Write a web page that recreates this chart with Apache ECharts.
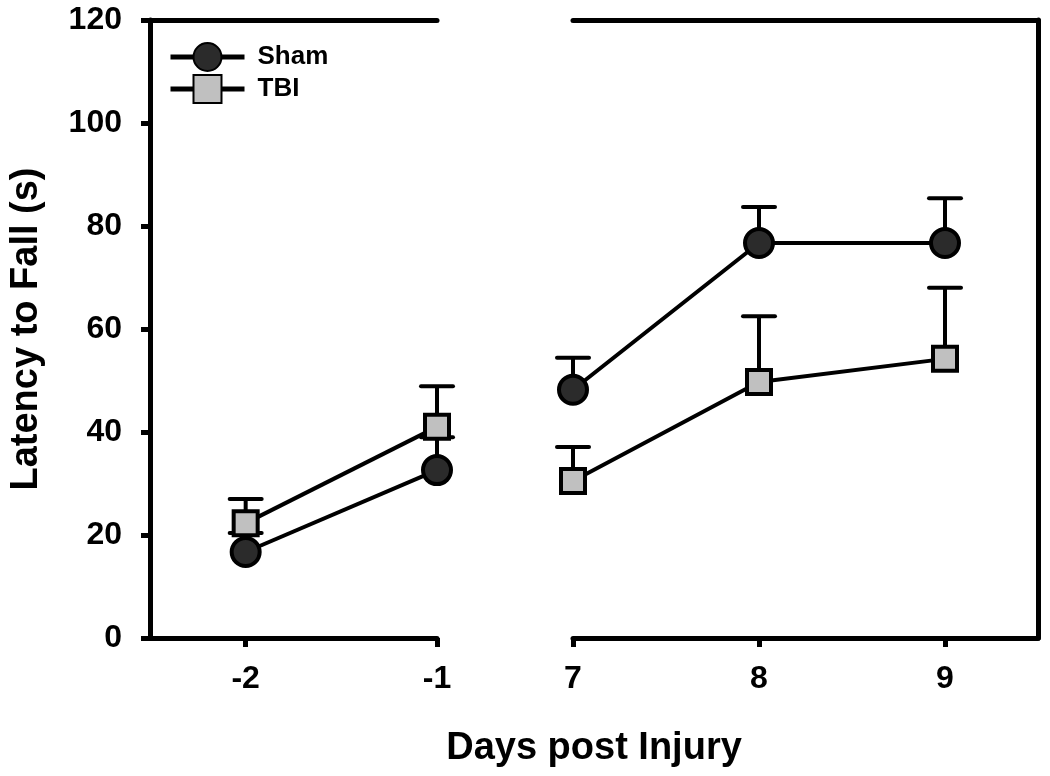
<!DOCTYPE html>
<html>
<head>
<meta charset="utf-8">
<script src="https://cdn.jsdelivr.net/npm/echarts@6/dist/echarts.min.js"></script>
<style>
html,body{margin:0;padding:0;background:#fff;}
#chart{width:1050px;height:776px;}
</style>
</head>
<body>
<div id="chart"></div>
<script>
// ---- data ----
var daysPre = [-2, -1];
var daysPost = [7, 8, 9];
var shamPre = [16.7, 32.6];
var shamPost = [48.2, 76.7, 76.7];
var shamErrPre = [3.7, 6.4];
var shamErrPost = [6.2, 7.0, 8.7];
var tbiPre = [22.3, 41.0];
var tbiPost = [30.5, 49.7, 54.2];
var tbiErrPre = [4.7, 7.9];
var tbiErrPost = [6.6, 12.8, 13.8];
var yTicks = [0, 20, 40, 60, 80, 100, 120];

var FONT = '"Liberation Sans", Arial, sans-serif';

function pts(xs, ys) { return xs.map(function (x, i) { return [x, ys[i]]; }); }
function errPts(xs, ys, es) { return xs.map(function (x, i) { return [x, ys[i], es[i]]; }); }

function errRender(params, api) {
  var x = api.value(0), y = api.value(1), e = api.value(2);
  var p0 = api.coord([x, y]);
  var p1 = api.coord([x, y + e]);
  return {
    type: 'group',
    children: [
      { type: 'line', shape: { x1: p0[0], y1: p0[1], x2: p1[0], y2: p1[1] }, style: { stroke: '#000', lineWidth: 4 } },
      { type: 'line', shape: { x1: p1[0] - 16, y1: p1[1], x2: p1[0] + 16, y2: p1[1] }, style: { stroke: '#000', lineWidth: 4, lineCap: 'round' } }
    ]
  };
}

var axisLineStyle = { color: '#000', width: 5, cap: 'round' };
var tickLabel = { color: '#000', fontFamily: FONT, fontWeight: 'bold', fontSize: 32 };

function bottomX(gridIndex, min, max, vals) {
  return {
    type: 'value', gridIndex: gridIndex, position: 'bottom', min: min, max: max,
    axisLine: { show: true, onZero: false, lineStyle: axisLineStyle },
    axisTick: { show: true, inside: false, length: 9, customValues: vals, lineStyle: { color: '#000', width: 5 } },
    axisLabel: Object.assign({ margin: 25, customValues: vals, showMinLabel: true, showMaxLabel: true }, tickLabel),
    splitLine: { show: false }
  };
}
function topX(gridIndex, min, max) {
  return {
    type: 'value', gridIndex: gridIndex, position: 'top', min: min, max: max,
    axisLine: { show: true, onZero: false, lineStyle: axisLineStyle },
    axisTick: { show: false }, axisLabel: { show: false }, splitLine: { show: false }
  };
}

var shamMarker = { color: '#2b2b2b', borderColor: '#000', borderWidth: 4 };
var tbiMarker = { color: '#c0c0c0', borderColor: '#000', borderWidth: 4 };

function lineSeries(name, xi, yi, data, symbol, size, style) {
  return {
    name: name, type: 'line', xAxisIndex: xi, yAxisIndex: yi, data: data,
    symbol: symbol, symbolSize: size, showAllSymbol: true,
    lineStyle: { color: '#000', width: 4 },
    itemStyle: style, z: 3, animation: false
  };
}
function errSeries(name, xi, yi, data) {
  return {
    name: name, type: 'custom', xAxisIndex: xi, yAxisIndex: yi, data: data,
    renderItem: errRender, encode: { x: 0, y: 1 }, z: 3, animation: false
  };
}

var option = {
  backgroundColor: '#fff',
  animation: false,
  grid: [
    { left: 150, top: 20, width: 287, height: 618 },
    { left: 573, top: 20, width: 465, height: 618 }
  ],
  legend: {
    data: ['Sham', 'TBI'],
    orient: 'vertical', left: 163, top: 37,
    itemWidth: 74, itemHeight: 35, itemGap: 2,
    lineStyle: { color: '#000', width: 5 },
    textStyle: { color: '#000', fontFamily: FONT, fontWeight: 'bold', fontSize: 26, padding: [0, 0, 0, 8] },
    selectedMode: false
  },
  xAxis: [
    bottomX(0, -2.5, -1, daysPre),
    topX(0, -2.5, -1),
    bottomX(1, 7, 9.5, daysPost),
    topX(1, 7, 9.5)
  ],
  yAxis: [
    {
      type: 'value', gridIndex: 0, position: 'left', min: 0, max: 120, interval: 20,
      name: 'Latency to Fall (s)', nameLocation: 'middle', nameGap: 104,
      nameTextStyle: { color: '#000', fontFamily: FONT, fontWeight: 'bold', fontSize: 38 },
      axisLine: { show: true, lineStyle: axisLineStyle },
      axisTick: { show: true, inside: false, length: 9, lineStyle: { color: '#000', width: 5 } },
      axisLabel: Object.assign({ margin: 28, customValues: yTicks }, tickLabel),
      splitLine: { show: false }
    },
    {
      type: 'value', gridIndex: 1, position: 'right', min: 0, max: 120, interval: 20,
      axisLine: { show: true, lineStyle: axisLineStyle },
      axisTick: { show: false }, axisLabel: { show: false }, splitLine: { show: false }
    }
  ],
  graphic: [
    {
      type: 'text', x: 594, y: 749,
      style: { text: 'Days post Injury', fill: '#000', font: 'bold 38px ' + FONT, textAlign: 'center', textVerticalAlign: 'middle' }
    }
  ],
  series: [
    errSeries('Sham SEM', 0, 0, errPts(daysPre, shamPre, shamErrPre)),
    lineSeries('Sham', 0, 0, pts(daysPre, shamPre), 'circle', 28, shamMarker),
    errSeries('TBI SEM', 0, 0, errPts(daysPre, tbiPre, tbiErrPre)),
    lineSeries('TBI', 0, 0, pts(daysPre, tbiPre), 'rect', 24, tbiMarker),
    errSeries('Sham SEM', 2, 1, errPts(daysPost, shamPost, shamErrPost)),
    lineSeries('Sham', 2, 1, pts(daysPost, shamPost), 'circle', 28, shamMarker),
    errSeries('TBI SEM', 2, 1, errPts(daysPost, tbiPost, tbiErrPost)),
    lineSeries('TBI', 2, 1, pts(daysPost, tbiPost), 'rect', 24, tbiMarker)
  ]
};

var chart = echarts.init(document.getElementById('chart'), null, { renderer: 'canvas' });
chart.setOption(option);
</script>
</body>
</html>
